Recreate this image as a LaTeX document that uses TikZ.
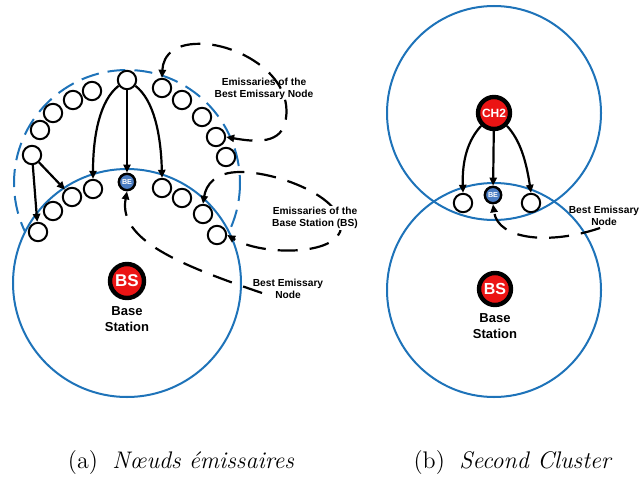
\documentclass[tikz,border=0pt]{standalone}
\usepackage{fontspec}
\newfontfamily\arialf{Liberation Sans}
\usepackage{xcolor}
\usetikzlibrary{arrows.meta, positioning}
\definecolor{zoneblue}{RGB}{30,115,185}
\definecolor{bsred}{RGB}{235,20,20}
\definecolor{beblue}{RGB}{75,125,195}

\begin{document}
\begin{tikzpicture}[
    x=0.5pt, y=-0.5pt,
    emis/.style={circle, draw, line width=1pt, fill=white, minimum size=9.2pt, inner sep=0pt},
    bsnode/.style={circle, draw, line width=2.2pt, fill=bsred, minimum size=17pt, inner sep=0pt, text=white, font=\arialf\bfseries\fontsize{8.5}{9}\selectfont},
    chnode/.style={bsnode, minimum size=16pt, font=\arialf\bfseries\fontsize{6}{7}\selectfont},
    benode/.style={circle, draw, line width=1.2pt, fill=beblue, minimum size=8.2pt, inner sep=0pt, text=white, font=\arialf\bfseries\fontsize{3.6}{4}\selectfont},
    lbl/.style={align=center, inner sep=0.5pt, font=\arialf\bfseries\fontsize{5.1}{6}\selectfont},
    stationlbl/.style={align=center, inner sep=0pt, font=\arialf\bfseries\fontsize{6.5}{8}\selectfont},
    zone/.style={zoneblue, line width=1pt},
    arrow/.style={-{Triangle[length=4pt,width=3.6pt]}, line width=1.1pt},
    dasharrow/.style={arrow, dash pattern=on 10pt off 6pt},
    caption/.style={font=\fontsize{12}{14}\selectfont}
]
    \useasboundingbox (0,0) rectangle (641,481);

    % (a) emissary nodes
    \draw[zone, dash pattern=on 9pt off 4.5pt] (127,183) circle[radius=113];
    \draw[zone, fill=white] (127,283) circle[radius=114];

    \node[bsnode] (bs) at (127,281) {BS};
    \node[stationlbl, below=3pt of bs] (bstxt) {Base\\Station};
    \node[benode] (be) at (127,182) {BE};

    \node[emis] (tn) at (127,80) {};
    \node[emis] (o1) at (92,91) {};
    \node[emis] (o2) at (73,100) {};
    \node[emis] (o3) at (53,113) {};
    \node[emis] (o4) at (40,130) {};
    \node[emis] (o5) at (32,155) {};
    \node[emis] (p1) at (162,88) {};
    \node[emis] (p2) at (182,100) {};
    \node[emis] (p3) at (202,117) {};
    \node[emis] (p4) at (216,137) {};
    \node[emis] (p5) at (226,157) {};
    \node[emis] (i1) at (93,189) {};
    \node[emis] (i2) at (72,197) {};
    \node[emis] (i3) at (53,211) {};
    \node[emis] (i4) at (38,232) {};
    \node[emis] (j1) at (162,188) {};
    \node[emis] (j2) at (182,198) {};
    \node[emis] (j3) at (203,214) {};
    \node[emis] (j4) at (217,235) {};

    \draw[arrow] (tn) -- (be);
    \draw[arrow] (tn.215) .. controls (100,100) and (93,135) .. (i1.north);
    \draw[arrow] (tn.325) .. controls (154,100) and (161,135) .. (j1.north);
    \draw[arrow] (o5) -- (i4);
    \draw[arrow] (o5) -- (i2);

    \coordinate (cbe) at (262,293);
    \draw[dasharrow, {Triangle[length=4pt,width=3.6pt]}-{Triangle[length=4pt,width=3.6pt]}]
        (p1.north) .. controls (163,55) and (175,42) .. (205,44)
        .. controls (240,46) and (292,75) .. (286,118)
        .. controls (283,145) and (255,142) .. (p4.east);
    \draw[dasharrow, {Triangle[length=4pt,width=3.6pt]}-{Triangle[length=4pt,width=3.6pt]}]
        (j3.north) .. controls (206,185) and (215,172) .. (240,172)
        .. controls (280,172) and (350,200) .. (340,232)
        .. controls (330,256) and (260,255) .. (j4.east);
    \draw[dasharrow] (cbe) .. controls (180,265) and (118,240) .. (be.south);

    \node[lbl] (lblbest) at (264,89) {Emissaries of the\\Best Emissary Node};
    \node[lbl, fill=white] (lblbase) at (315,218) {Emissaries of the\\Base Station (BS)};
    \node[lbl] (lblbe) at (288,289) {Best Emissary\\Node};

    % (b) second cluster
    \draw[zone] (494,113) circle[radius=107];
    \draw[zone] (494,290) circle[radius=107];

    \node[chnode] (ch2) at (494,113) {CH2};
    \node[benode] (be2) at (493,195) {BE};
    \node[emis] (k1) at (463,203) {};
    \node[emis] (k2) at (531,203) {};
    \node[bsnode, minimum size=16pt, font=\arialf\bfseries\fontsize{8}{9}\selectfont] (bs2) at (495,289) {BS};
    \node[stationlbl, below=3pt of bs2] (bs2txt) {Base\\Station};

    \draw[arrow] (ch2) -- (be2);
    \draw[arrow] (ch2.225) .. controls (468,140) and (462,160) .. (k1.north);
    \draw[arrow] (ch2.315) .. controls (520,140) and (526,160) .. (k2.north);

    \node[lbl] (lblbe2) at (604,216) {Best Emissary\\Node};
    \coordinate (cbe2) at (600,228);
    \draw[dasharrow] (cbe2) .. controls (550,245) and (498,240) .. (be2.south);

    % captions
    \node[caption] (capa) at (181,463) {(a)\hspace{0.6em}\textit{Nœuds émissaires}};
    \node[caption] (capb) at (513,463) {(b)\hspace{0.6em}\textit{Second Cluster}};
\end{tikzpicture}
\end{document}
